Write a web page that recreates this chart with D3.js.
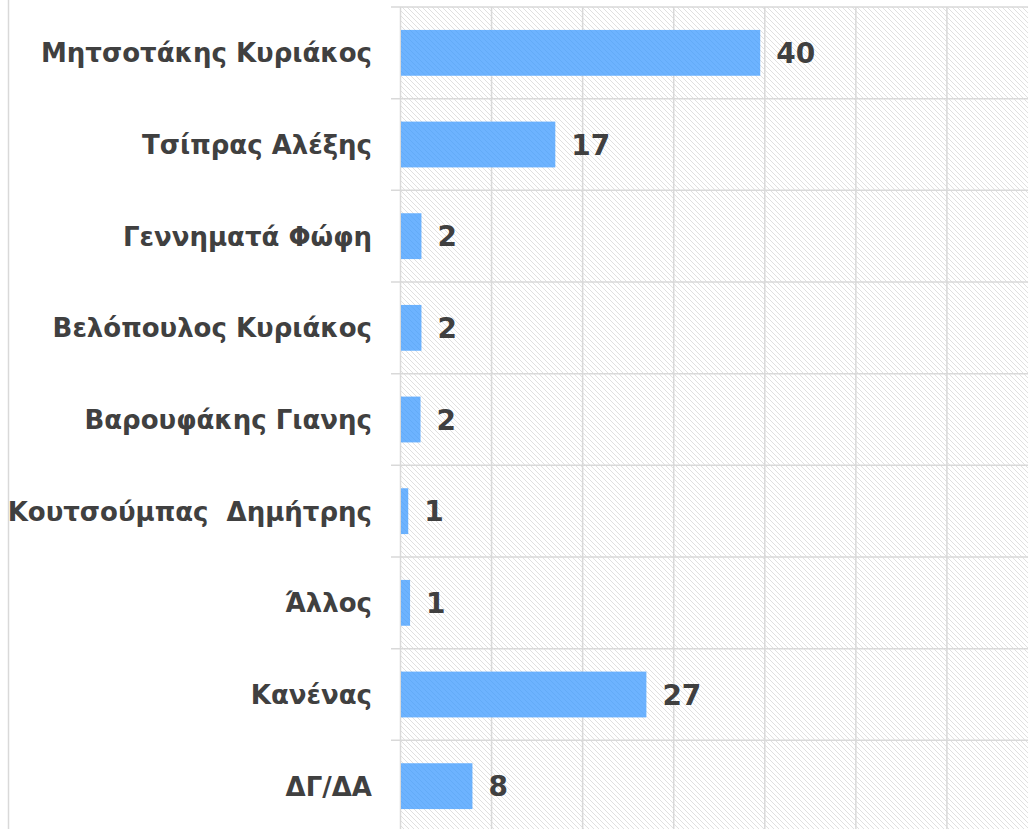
<!DOCTYPE html>
<html>
<head>
<meta charset="utf-8">
<script src="https://cdn.jsdelivr.net/npm/d3@7"></script>
<style>
  html, body { margin: 0; padding: 0; background: #ffffff; }
  svg { display: block; }
  text { white-space: pre; }
</style>
</head>
<body>
<svg id="chart" width="1028" height="829"></svg>
<script>
const categories = [
  "Μητσοτάκης Κυριάκος",
  "Τσίπρας Αλέξης",
  "Γεννηματά Φώφη",
  "Βελόπουλος Κυριάκος",
  "Βαρουφάκης Γιανης",
  "Κουτσούμπας  Δημήτρης",
  "Άλλος",
  "Κανένας",
  "ΔΓ/ΔΑ"
];
const values = [39.5, 17, 2.3, 2.3, 2.2, 0.85, 1.05, 27, 7.9];
const valueLabels = ["40", "17", "2", "2", "2", "1", "1", "27", "8"];
const xTicks = [0, 10, 20, 30, 40, 50, 60, 70];

const svg = d3.select("#chart");
const W = 1028, H = 829;
const plotLeft = 400.5, plotTop = 7, plotBottom = 832;

const x = d3.scaleLinear().domain([0, 70]).range([plotLeft, 1038]);
const y = d3.scaleBand().domain(categories).range([plotTop, plotBottom])
  .paddingInner(0.5).paddingOuter(0.25);

const defs = svg.append("defs");
const bgPat = defs.append("pattern").attr("id", "hatch")
  .attr("patternUnits", "userSpaceOnUse").attr("width", 5).attr("height", 5);
bgPat.append("rect").attr("width", 5).attr("height", 5).attr("fill", "#ffffff");
bgPat.append("path").attr("d", "M-1,-1 L6,6 M-1,4 L1,6 M4,-1 L6,1")
  .attr("stroke", "#dcdcdc").attr("stroke-width", 0.9);

const barPat = defs.append("pattern").attr("id", "barhatch")
  .attr("patternUnits", "userSpaceOnUse").attr("width", 5).attr("height", 5);
barPat.append("rect").attr("width", 5).attr("height", 5).attr("fill", "#6db3ff");
barPat.append("path").attr("d", "M-1,-1 L6,6 M-1,4 L1,6 M4,-1 L6,1")
  .attr("stroke", "#62aaf6").attr("stroke-width", 0.9);

// hatched plot background
svg.append("rect").attr("x", plotLeft).attr("y", plotTop)
  .attr("width", W - plotLeft).attr("height", H - plotTop)
  .attr("fill", "url(#hatch)");

// left border line
svg.append("line").attr("x1", 8.5).attr("x2", 8.5).attr("y1", 0).attr("y2", H)
  .attr("stroke", "#d9d9d9").attr("stroke-width", 1.5);

// vertical gridlines
svg.append("g").selectAll("line").data(xTicks).join("line")
  .attr("x1", d => x(d)).attr("x2", d => x(d))
  .attr("y1", plotTop).attr("y2", H)
  .attr("stroke", "#d9d9d9").attr("stroke-width", 1.5);

// horizontal gridlines at band boundaries
const boundaries = categories.map(c => y(c) - y.step() * 0.25);
boundaries.push(plotBottom);
svg.append("g").selectAll("line").data(boundaries).join("line")
  .attr("x1", 391).attr("x2", W)
  .attr("y1", d => d).attr("y2", d => d)
  .attr("stroke", "#d9d9d9").attr("stroke-width", 1.5);

// bars
svg.append("g").selectAll("rect").data(categories).join("rect")
  .attr("x", x(0) + 0.5)
  .attr("y", d => y(d))
  .attr("width", (d, i) => x(values[i]) - x(0) - 0.5)
  .attr("height", y.bandwidth())
  .attr("fill", "url(#barhatch)");

const font = "'DejaVu Sans', sans-serif";

// category labels
svg.append("g").selectAll("text").data(categories).join("text")
  .attr("x", 372)
  .attr("y", d => y(d) + y.bandwidth() / 2)
  .attr("dy", "0.36em")
  .attr("text-anchor", "end")
  .attr("font-family", font)
  .attr("font-weight", "bold")
  .attr("font-size", 26)
  .attr("fill", "#404040")
  .text(d => d);

// value labels
svg.append("g").selectAll("text").data(categories).join("text")
  .attr("x", (d, i) => x(values[i]) + 16)
  .attr("y", d => y(d) + y.bandwidth() / 2)
  .attr("dy", "0.36em")
  .attr("font-family", font)
  .attr("font-weight", "bold")
  .attr("font-size", 28)
  .attr("fill", "#404040")
  .text((d, i) => valueLabels[i]);
</script>
</body>
</html>
